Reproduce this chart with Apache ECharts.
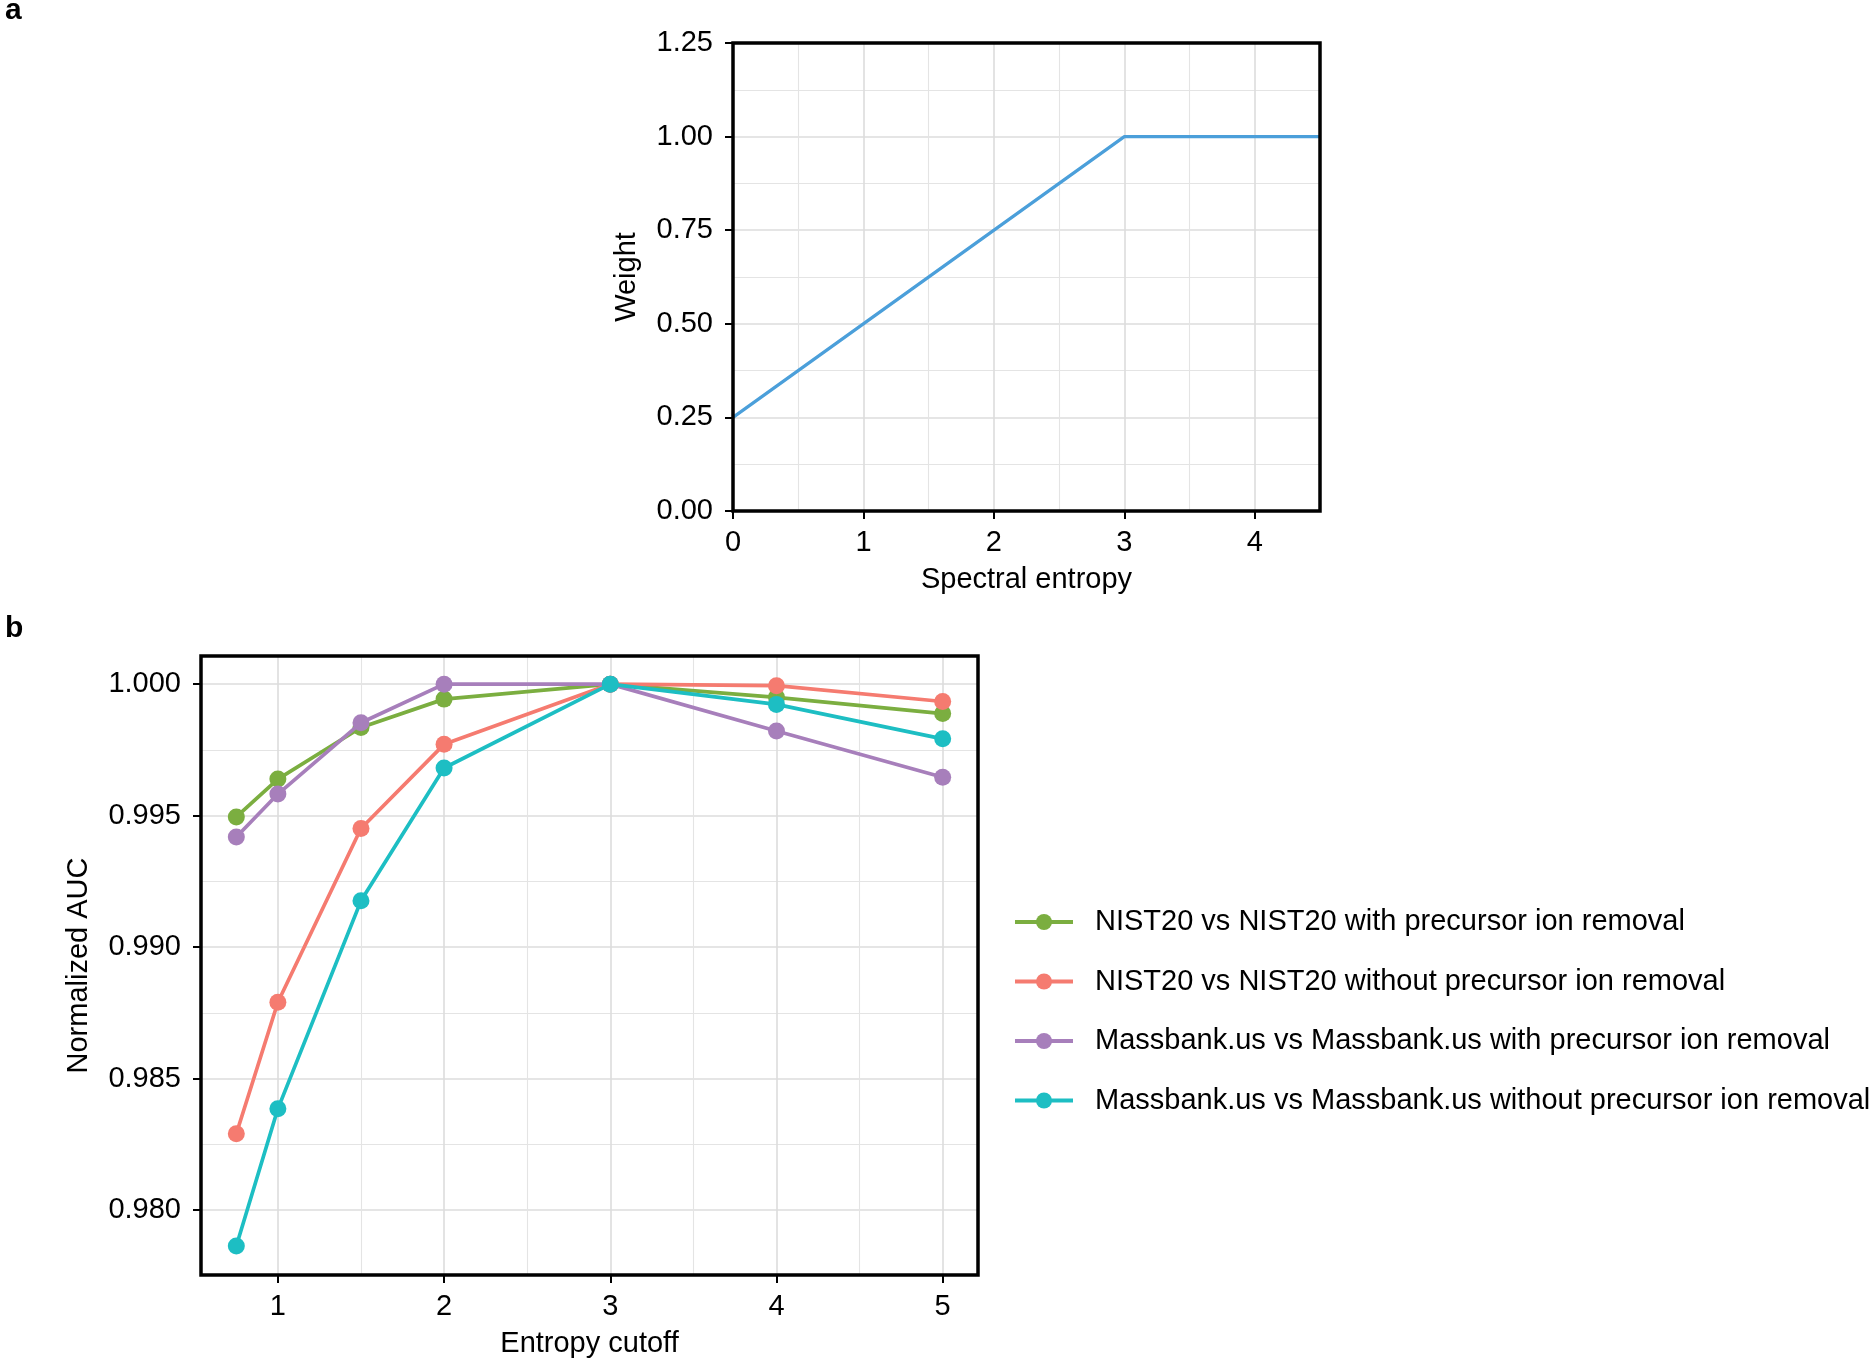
<!DOCTYPE html>
<html>
<head>
<meta charset="utf-8">
<script src="https://cdn.jsdelivr.net/npm/echarts@6/dist/echarts.min.js"></script>
<style>
html,body{margin:0;padding:0;background:#fff;}
#chart{width:1872px;height:1362px;}
</style>
</head>
<body>
<div id="chart"></div>
<script>
// ---- Panel a data ----
const entropyX = [0, 3, 4.5];
const weightY = [0.25, 1.0, 1.0];
const aXTicks = [0, 1, 2, 3, 4];
const aXMinor = [0.5, 1.5, 2.5, 3.5, 4.5];

// ---- Panel b data ----
const cutoffs = [0.75, 1, 1.5, 2, 3, 4, 5];
const seriesNames = [
  'NIST20 vs NIST20 with precursor ion removal',
  'NIST20 vs NIST20 without precursor ion removal',
  'Massbank.us vs Massbank.us with precursor ion removal',
  'Massbank.us vs Massbank.us without precursor ion removal'
];
const nistWith     = [0.99495, 0.99639, 0.99835, 0.99943, 1.0, 0.99950, 0.99888];
const nistWithout  = [0.98290, 0.98790, 0.99451, 0.99771, 1.0, 0.99994, 0.99934];
const massWith     = [0.99419, 0.99582, 0.99853, 1.00000, 1.0, 0.99822, 0.99646];
const massWithout  = [0.97863, 0.98385, 0.99176, 0.99681, 1.0, 0.99923, 0.99792];
const bXTicks = [1, 2, 3, 4, 5];
const bXMinor = [1.5, 2.5, 3.5, 4.5];
const bYTicks = [0.980, 0.985, 0.990, 0.995, 1.000];
const bYMinor = [0.9825, 0.9875, 0.9925, 0.9975];

const colors = ['#7BAE40', '#F57B70', '#A77FBB', '#1DBEC3'];
const FONT = "'Liberation Sans', Arial, Helvetica, sans-serif";
const FS = 29;
const GRID_MAJOR = {color: '#DCDCDC', width: 1.6};
const GRID_MINOR = {color: '#E4E4E4', width: 1.1};
const TICK = {show: true, length: 8, lineStyle: {color: '#000', width: 2}};

function zip(xs, ys) { return xs.map((x, i) => [x, ys[i]]); }

const chart = echarts.init(document.getElementById('chart'), null, {renderer: 'canvas'});

const bSeriesData = [nistWith, nistWithout, massWith, massWithout];

const option = {
  backgroundColor: '#fff',
  animation: false,
  textStyle: {fontFamily: FONT},
  title: [
    {text: 'a', left: 0, top: -9, textStyle: {fontSize: 30, fontWeight: 'bold', color: '#000', fontFamily: FONT}},
    {text: 'b', left: 0, top: 609, textStyle: {fontSize: 30, fontWeight: 'bold', color: '#000', fontFamily: FONT}}
  ],
  grid: [
    {left: 733, top: 43, width: 587, height: 468, show: true, borderColor: '#000', borderWidth: 3.5, backgroundColor: 'transparent', z: 3},
    {left: 201, top: 656, width: 777, height: 619, show: true, borderColor: '#000', borderWidth: 3.5, backgroundColor: 'transparent', z: 3}
  ],
  legend: seriesNames.map((n, i) => ({
    data: [n],
    orient: 'vertical',
    left: 1008,
    top: [902.5, 962, 1021.5, 1081][i],
    itemWidth: 58,
    itemHeight: 20,
    lineStyle: {width: 4},
    textStyle: {fontSize: FS, color: '#000', fontFamily: FONT, padding: [0, 0, 0, 17]},
    selectedMode: false
  })),
  xAxis: [
    {
      gridIndex: 0, type: 'value', min: 0, max: 4.5,
      name: 'Spectral entropy', nameLocation: 'middle', nameGap: 54,
      nameTextStyle: {fontSize: FS, color: '#000', fontFamily: FONT},
      axisLine: {show: false},
      axisTick: Object.assign({customValues: aXTicks}, TICK),
      axisLabel: {customValues: aXTicks, fontSize: FS, color: '#000', margin: 17, fontFamily: FONT},
      splitLine: {show: true, lineStyle: GRID_MAJOR}
    },
    {
      gridIndex: 0, type: 'value', min: 0, max: 4.5, position: 'bottom',
      axisLine: {show: false},
      axisTick: {show: false, customValues: aXMinor},
      axisLabel: {show: false},
      splitLine: {show: true, lineStyle: GRID_MINOR}
    },
    {
      gridIndex: 1, type: 'value', min: 0.5375, max: 5.2125,
      name: 'Entropy cutoff', nameLocation: 'middle', nameGap: 54,
      nameTextStyle: {fontSize: FS, color: '#000', fontFamily: FONT},
      axisLine: {show: false},
      axisTick: Object.assign({customValues: bXTicks}, TICK),
      axisLabel: {customValues: bXTicks, fontSize: FS, color: '#000', margin: 17, fontFamily: FONT},
      splitLine: {show: true, lineStyle: GRID_MAJOR}
    },
    {
      gridIndex: 1, type: 'value', min: 0.5375, max: 5.2125, position: 'bottom',
      axisLine: {show: false},
      axisTick: {show: false, customValues: bXMinor},
      axisLabel: {show: false},
      splitLine: {show: true, lineStyle: GRID_MINOR}
    }
  ],
  yAxis: [
    {
      gridIndex: 0, type: 'value', min: 0, max: 1.25, interval: 0.25,
      name: 'Weight', nameLocation: 'middle', nameGap: 92,
      nameTextStyle: {fontSize: FS, color: '#000', fontFamily: FONT},
      axisLine: {show: false},
      axisTick: TICK,
      axisLabel: {fontSize: FS, color: '#000', margin: 20, fontFamily: FONT, formatter: v => v.toFixed(2)},
      splitLine: {show: true, lineStyle: GRID_MAJOR},
      minorTick: {show: false, splitNumber: 2},
      minorSplitLine: {show: true, lineStyle: GRID_MINOR}
    },
    {
      gridIndex: 0, type: 'value', min: 0, max: 1.25, position: 'left',
      axisLine: {show: false}, axisTick: {show: false}, axisLabel: {show: false},
      splitLine: {show: false}
    },
    {
      gridIndex: 1, type: 'value', min: 0.97753, max: 1.00107,
      name: 'Normalized AUC', nameLocation: 'middle', nameGap: 108,
      nameTextStyle: {fontSize: FS, color: '#000', fontFamily: FONT},
      axisLine: {show: false},
      axisTick: Object.assign({customValues: bYTicks}, TICK),
      axisLabel: {customValues: bYTicks, fontSize: FS, color: '#000', margin: 20, fontFamily: FONT, formatter: v => v.toFixed(3)},
      splitLine: {show: true, lineStyle: GRID_MAJOR}
    },
    {
      gridIndex: 1, type: 'value', min: 0.97753, max: 1.00107, position: 'left',
      axisLine: {show: false},
      axisTick: {show: false, customValues: bYMinor},
      axisLabel: {show: false},
      splitLine: {show: true, lineStyle: GRID_MINOR}
    }
  ],
  series: [
    {
      type: 'line', name: 'weight', xAxisIndex: 0, yAxisIndex: 0,
      data: zip(entropyX, weightY),
      showSymbol: false, symbol: 'none',
      lineStyle: {color: '#4B9FDA', width: 3.2},
      itemStyle: {color: '#4B9FDA'},
      z: 2
    }
  ].concat(bSeriesData.map((d, i) => ({
    type: 'line', name: seriesNames[i], xAxisIndex: 2, yAxisIndex: 2,
    data: zip(cutoffs, d),
    symbol: 'circle', symbolSize: 17, showSymbol: true,
    lineStyle: {color: colors[i], width: 3.7},
    itemStyle: {color: colors[i]},
    z: 2 + i
  })))
};
chart.setOption(option);
</script>
</body>
</html>
